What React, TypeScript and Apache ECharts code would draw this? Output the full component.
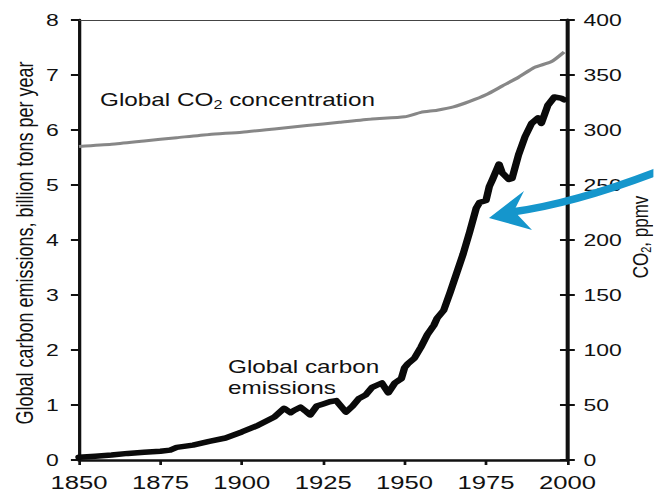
import React, { useEffect, useRef } from "react";
import * as echarts from "echarts";

// Annual global carbon emissions (billion tons per year)
const emissionYears = [
  1850, 1855, 1860, 1865, 1870, 1875, 1878, 1880, 1885, 1890, 1895, 1900, 1905, 1910,
  1913, 1915, 1916, 1918, 1920, 1921, 1923, 1925, 1927, 1929, 1932, 1934, 1936, 1938,
  1940, 1943, 1945, 1947, 1949, 1950, 1951, 1953, 1955, 1957, 1959, 1960, 1962, 1964,
  1966, 1968, 1970, 1972, 1973, 1974, 1975, 1976, 1977, 1979, 1980, 1982, 1983, 1985,
  1987, 1989, 1991, 1992, 1994, 1996, 1998, 1999,
];
const emissionValues = [
  0.05, 0.07, 0.09, 0.12, 0.14, 0.16, 0.18, 0.23, 0.27, 0.34, 0.4, 0.51, 0.63, 0.78,
  0.94, 0.86, 0.9, 0.96, 0.87, 0.82, 0.98, 1.02, 1.06, 1.08, 0.87, 0.98, 1.12, 1.18,
  1.32, 1.4, 1.22, 1.4, 1.48, 1.68, 1.75, 1.85, 2.05, 2.28, 2.45, 2.58, 2.72, 3.05,
  3.4, 3.75, 4.15, 4.58, 4.68, 4.7, 4.72, 4.97, 5.1, 5.38, 5.22, 5.1, 5.12, 5.55,
  5.88, 6.12, 6.22, 6.12, 6.45, 6.6, 6.58, 6.55,
];

// Atmospheric CO2 concentration (ppmv)
const co2Years = [
  1850, 1860, 1870, 1880, 1890, 1900, 1910, 1920, 1930, 1940, 1950, 1955, 1960, 1965,
  1970, 1975, 1980, 1985, 1990, 1995, 1999,
];
const co2Values = [
  285, 287, 290, 293, 296, 298, 301, 304, 307, 310, 312, 316, 318, 321,
  326, 332, 340, 348, 357, 362, 371,
];

const W = 654;
const H = 494;
// horizontal stretch applied to the whole figure
const S = 1.35;
const px = (x: number) => x / S;

const FONT = "'Liberation Sans', Arial, Helvetica, sans-serif";
const INK = "#111111";
const BLUE = "#1596cc";

export default function App() {
  const ref = useRef<HTMLDivElement>(null);

  useEffect(() => {
    if (!ref.current) return;
    const chart = echarts.init(ref.current, undefined, { renderer: "svg" });

    const emissions = emissionYears.map((y, i) => [y, emissionValues[i]]);
    const co2 = co2Years.map((y, i) => [y, co2Values[i]]);

    const baseLabel = { color: INK, fontFamily: FONT };

    chart.setOption({
      animation: false,
      backgroundColor: "#ffffff",
      grid: { left: px(79), right: px(W - 568), top: 20, bottom: 34, containLabel: false },
      xAxis: [
        {
          type: "value",
          min: 1850,
          max: 2000,
          interval: 25,
          position: "bottom",
          axisLine: { show: true, onZero: false, lineStyle: { color: INK, width: 2.5 } },
          axisTick: { show: true, length: 5, lineStyle: { color: INK, width: 2 } },
          axisLabel: {
            ...baseLabel,
            fontSize: 19,
            margin: 13,
            formatter: (v: number) => String(v),
          },
          splitLine: { show: false },
        },
        {
          type: "value",
          min: 1850,
          max: 2000,
          position: "top",
          axisLine: { show: true, onZero: false, lineStyle: { color: "#444", width: 1 } },
          axisTick: { show: false },
          axisLabel: { show: false },
          splitLine: { show: false },
        },
      ],
      yAxis: [
        {
          type: "value",
          min: 0,
          max: 8,
          interval: 1,
          position: "left",
          axisLine: { show: true, onZero: false, lineStyle: { color: INK, width: 2.4 } },
          axisTick: { show: true, length: 6, lineStyle: { color: INK, width: 2 } },
          axisLabel: { ...baseLabel, fontSize: 17, margin: 15 },
          splitLine: { show: false },
        },
        {
          type: "value",
          min: 0,
          max: 400,
          interval: 50,
          position: "right",
          axisLine: { show: true, onZero: false, lineStyle: { color: INK, width: 3 } },
          axisTick: { show: true, length: 5.5, lineStyle: { color: INK, width: 2 } },
          axisLabel: { ...baseLabel, fontSize: 17, margin: 12 },
          splitLine: { show: false },
        },
        {
          type: "value",
          min: 0,
          max: 400,
          interval: 50,
          position: "right",
          axisLine: { show: false, onZero: false },
          axisTick: { show: true, inside: true, length: 5.5, lineStyle: { color: INK, width: 2 } },
          axisLabel: { show: false },
          splitLine: { show: false },
        },
      ],
      series: [
        {
          name: "Global CO2 concentration",
          type: "line",
          xAxisIndex: 0,
          yAxisIndex: 1,
          data: co2,
          showSymbol: false,
          smooth: 0.2,
          lineStyle: { color: "#878787", width: 3 },
          z: 2,
        },
        {
          name: "Global carbon emissions",
          type: "line",
          xAxisIndex: 0,
          yAxisIndex: 0,
          data: emissions,
          showSymbol: false,
          lineStyle: { color: "#0a0a0a", width: 5.5, join: "round", cap: "round" },
          z: 3,
        },
      ],
      graphic: [
        {
          type: "text",
          x: px(25),
          y: 243,
          rotation: Math.PI / 2,
          style: {
            text: "Global carbon emissions, billion tons per year",
            fontFamily: FONT,
            fontSize: 18,
            fill: INK,
            align: "center",
            verticalAlign: "middle",
          },
        },
        {
          type: "text",
          x: px(640),
          y: 237,
          rotation: Math.PI / 2,
          style: {
            text: "{a|CO}{s|2}{a|, ppmv}",
            fill: INK,
            align: "center",
            verticalAlign: "middle",
            rich: {
              a: { fontFamily: FONT, fontSize: 17, lineHeight: 20, fill: INK },
              s: { fontFamily: FONT, fontSize: 11, lineHeight: 11, verticalAlign: "bottom", fill: INK },
            },
          },
        },
        {
          type: "text",
          x: px(100),
          y: 100,
          style: {
            text: "{a|Global CO}{s|2}{a| concentration}",
            fill: INK,
            align: "left",
            verticalAlign: "middle",
            rich: {
              a: { fontFamily: FONT, fontSize: 18, lineHeight: 22, fill: INK },
              s: { fontFamily: FONT, fontSize: 12, lineHeight: 12, verticalAlign: "bottom", fill: INK },
            },
          },
        },
        {
          type: "text",
          x: px(228),
          y: 357,
          style: {
            text: "Global carbon\nemissions",
            fontFamily: FONT,
            fontSize: 18,
            lineHeight: 21,
            fill: INK,
            align: "left",
            verticalAlign: "top",
          },
        },
        {
          type: "bezierCurve",
          z: 100,
          shape: {
            x1: px(664),
            y1: 169,
            cpx1: px(577),
            cpy1: 203,
            x2: px(512),
            y2: 212,
          },
          style: { stroke: BLUE, lineWidth: 7.5, fill: null },
        },
        {
          type: "polygon",
          z: 101,
          shape: {
            points: [
              [px(489), 218],
              [px(524), 191],
              [px(514), 211],
              [px(532), 230],
            ],
          },
          style: { fill: BLUE },
        },
      ],
    });

    return () => chart.dispose();
  }, []);

  return (
    <div
      style={{
        position: "fixed",
        left: 0,
        top: 0,
        width: W,
        height: H,
        overflow: "hidden",
        background: "#ffffff",
      }}
    >
      <div
        ref={ref}
        style={{
          width: W / S,
          height: H,
          transform: `scaleX(${S})`,
          transformOrigin: "0 0",
        }}
      />
    </div>
  );
}
